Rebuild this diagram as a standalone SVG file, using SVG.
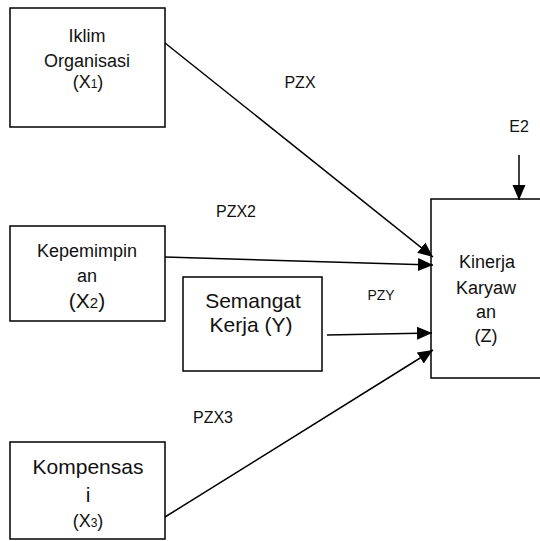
<svg xmlns="http://www.w3.org/2000/svg" width="540" height="541" viewBox="0 0 540 541">
  <defs>
    <marker id="head" markerUnits="userSpaceOnUse" markerWidth="16" markerHeight="16" viewBox="0 0 16 16" refX="15" refY="8" orient="auto">
      <path d="M0,1.5 L15,8 L0,14.5 Z" fill="#000"/>
    </marker>
    <style>
      .box { fill: #fff; stroke: #000; stroke-width: 1.5; }
      .t { font-family: "Liberation Sans", Arial, sans-serif; fill: #111; text-anchor: middle; }
      .edge { stroke: #000; stroke-width: 1.5; fill: none; marker-end: url(#head); }
    </style>
  </defs>
  <rect width="540" height="541" fill="#fff"/>

  <g id="iklim">
    <rect class="box" x="10" y="8" width="155" height="119"/>
    <text class="t" x="87" y="42" font-size="18">Iklim</text>
    <text class="t" x="87" y="67" font-size="18">Organisasi</text>
    <text class="t" x="88" y="88" font-size="18">(X<tspan font-size="12">1</tspan>)</text>
  </g>

  <g id="kepemimpinan">
    <rect class="box" x="10" y="226" width="155" height="95"/>
    <text class="t" x="87" y="257" font-size="18">Kepemimpin</text>
    <text class="t" x="87" y="282" font-size="18">an</text>
    <text class="t" x="87" y="308" font-size="21">(X<tspan font-size="15">2</tspan>)</text>
  </g>

  <g id="semangat">
    <rect class="box" x="183" y="277" width="139" height="94"/>
    <text class="t" x="253" y="308" font-size="21">Semangat</text>
    <text class="t" x="251" y="332" font-size="21">Kerja (Y)</text>
  </g>

  <g id="kompensasi">
    <rect class="box" x="10" y="442" width="155" height="97"/>
    <text class="t" x="88" y="474" font-size="21">Kompensas</text>
    <text class="t" x="88" y="502" font-size="21">i</text>
    <text class="t" x="88" y="527" font-size="18">(X<tspan font-size="12">3</tspan>)</text>
  </g>

  <g id="kinerja">
    <rect class="box" x="431" y="199" width="120" height="179"/>
    <text class="t" x="487" y="268" font-size="18">Kinerja</text>
    <text class="t" x="486" y="294" font-size="18">Karyaw</text>
    <text class="t" x="486" y="318" font-size="18">an</text>
    <text class="t" x="486" y="342" font-size="18">(Z)</text>
  </g>

  <g id="error">
    <text class="t" x="519" y="132" font-size="16">E2</text>
  </g>

  <g id="connectors">
    <line class="edge" x1="165" y1="43" x2="433" y2="257"/>
    <line class="edge" x1="165" y1="257" x2="433" y2="265"/>
    <line class="edge" x1="327" y1="335" x2="432" y2="333"/>
    <line class="edge" x1="165" y1="517" x2="433" y2="350"/>
    <line class="edge" x1="519" y1="155" x2="519" y2="200"/>
  </g>

  <g id="labels">
    <text class="t" x="300" y="88" font-size="16">PZX</text>
    <text class="t" x="236" y="217" font-size="16">PZX2</text>
    <text class="t" x="381" y="300" font-size="14">PZY</text>
    <text class="t" x="213" y="423" font-size="16">PZX3</text>
  </g>
</svg>
